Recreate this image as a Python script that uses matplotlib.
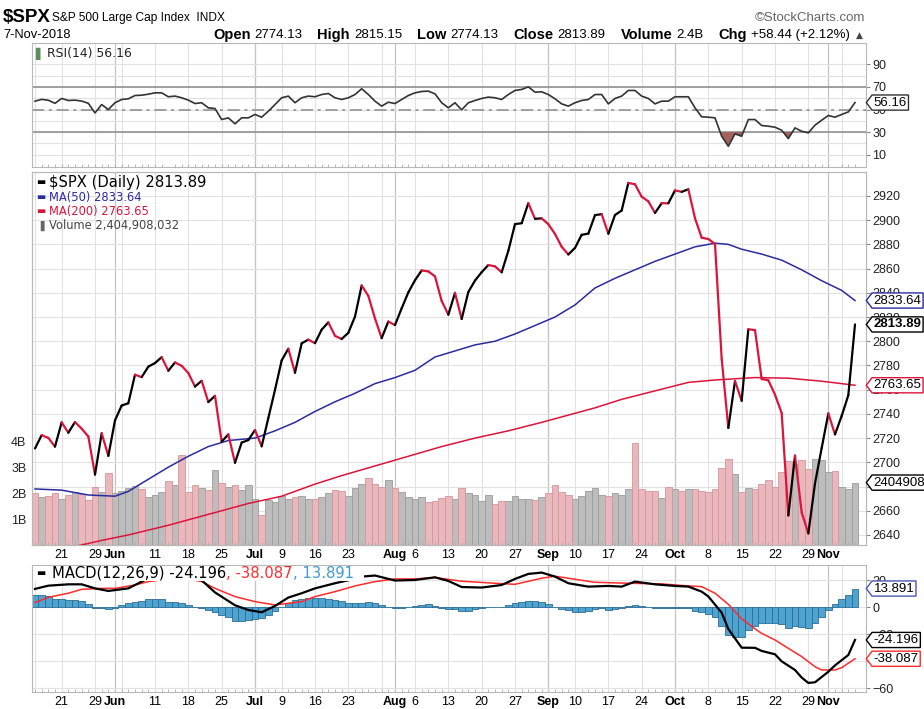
import numpy as np
import pandas as pd
import matplotlib
matplotlib.use('Agg')
import matplotlib.pyplot as plt
from matplotlib.collections import LineCollection
from matplotlib.transforms import blended_transform_factory
from matplotlib.path import Path

W, H = 924, 709

# trading days shown (May 15 - Nov 7 2018)
holidays = ['2018-05-28', '2018-07-04', '2018-09-03']
dates = pd.bdate_range('2018-05-15', '2018-11-07')
dates = dates[~dates.isin(pd.to_datetime(holidays))]
pos = np.arange(len(dates))

prev_close = 2730.13
close = [2711.45, 2722.46, 2720.13, 2712.97, 2733.01, 2724.44, 2733.29, 2727.76, 2721.33, 2689.86, 2724.01, 2705.27,
         2734.62, 2746.87, 2748.80, 2772.35, 2770.37, 2779.03, 2782.00, 2786.85, 2775.63, 2782.49, 2779.66,
         2773.75, 2762.59, 2767.32, 2749.76, 2754.88, 2717.07, 2723.06, 2699.63, 2716.31, 2718.37,
         2726.71, 2713.22, 2736.61, 2759.82, 2784.17, 2793.84, 2774.02, 2798.29, 2801.31, 2798.43, 2809.55,
         2815.62, 2804.49, 2801.83, 2806.98, 2820.40, 2846.07, 2837.44, 2818.82, 2802.60, 2816.29,
         2813.36, 2827.22, 2840.35, 2850.40, 2858.45, 2857.70, 2853.58, 2833.28, 2821.93, 2839.96, 2818.37,
         2840.69, 2850.13, 2857.05, 2862.96, 2861.82, 2856.98, 2874.69, 2896.74, 2897.52, 2914.04, 2901.13, 2901.52,
         2896.72, 2888.60, 2878.05, 2871.68, 2877.13, 2887.89, 2888.92, 2904.18, 2904.98, 2888.80, 2904.31,
         2907.95, 2930.75, 2929.67, 2919.37, 2915.56, 2905.97, 2914.00, 2913.98,
         2924.59, 2923.43, 2925.51, 2901.61, 2885.57, 2884.43, 2880.34, 2785.68, 2728.37, 2767.13, 2750.79,
         2809.92, 2809.21, 2768.78, 2767.78, 2755.88, 2740.69, 2656.10, 2705.57, 2658.69, 2641.25, 2682.63, 2711.74,
         2740.37, 2723.06, 2738.31, 2755.45, 2813.89]

# volume in billions
volume_b = [2.0, 1.83, 1.9, 2.0, 1.77, 1.94, 2.04, 1.96, 1.74, 2.24, 2.04, 2.76, 2.0, 2.09, 2.19, 2.28, 2.15,
            1.83, 1.94, 2.04, 2.45, 2.31, 3.47, 2.04, 2.29, 2.19, 2.13, 2.9, 2.38, 2.24, 2.29, 2.13, 2.29,
            1.77, 1.15, 1.73, 1.64, 1.87, 1.78, 1.83, 1.87, 1.77,
            1.77, 1.86, 1.99, 2.13, 2.06, 1.87, 2.18, 2.35, 2.59, 2.35, 2.22, 2.5, 2.18, 2.03, 1.83, 1.77, 1.83,
            1.64, 1.68, 1.82, 1.87, 1.77,
            2.18, 1.99, 1.94, 1.68, 1.94, 1.56, 1.68, 1.68, 1.87, 1.78, 1.78, 1.72, 1.83, 1.99, 2.29, 2.05, 1.94,
            1.78, 1.9, 2.09, 2.18, 1.94, 1.9, 1.99, 1.94, 2.14, 3.94, 2.14, 2.09, 2.09, 1.82, 2.23, 2.14, 2.08,
            2.14, 2.14, 2.09, 2.04, 2.14, 2.97, 3.32, 2.72, 2.04, 2.18, 2.14, 2.35, 2.5, 2.24, 2.81, 3.22, 3.1,
            3.27, 2.91, 3.32, 3.27, 2.81, 2.86, 2.24, 2.14, 2.40]

ma50_pos = [0, 4, 8, 12, 14, 17, 20, 23, 26, 29, 33, 36, 39, 42, 45, 48, 51, 54, 57, 60, 63, 66, 69, 72, 75,
            78, 81, 84, 87, 90, 93, 96, 99, 102, 104, 106, 109, 112, 115, 118, 121, 123]
ma50_val = [2678, 2677, 2673, 2672, 2676, 2686, 2696, 2705, 2713, 2718, 2720, 2726, 2733, 2742, 2750, 2757,
            2765, 2770, 2776, 2787, 2792, 2797, 2800, 2806, 2813, 2820, 2830, 2844, 2852, 2859, 2866, 2872,
            2878, 2881, 2880, 2876, 2872, 2867, 2859, 2850, 2842, 2833.64]

ma200_pos = [6, 10, 14, 20, 26, 32, 37, 42, 46, 51, 56, 61, 66, 71, 76, 80, 84, 88, 93, 98, 102, 108, 113,
             118, 123]
ma200_val = [2630.5, 2635.5, 2640, 2648, 2657, 2666, 2672, 2682, 2689, 2697, 2705, 2713, 2720, 2726, 2733,
             2739, 2745, 2752, 2759, 2766, 2768, 2770, 2769.5, 2767, 2763.65]

rsi = [57.4, 59, 58.2, 55.5, 59.8, 58, 58.3, 57.5, 55.5, 47, 54.4, 50, 56, 58.9, 59.5, 62.4, 62.7, 63.6, 64.8,
       64.8, 61.3, 61.9, 60.4, 58.3, 55.3, 56, 51.5, 50.9, 41.1, 42.6, 37.3, 42.6, 42.6, 45.6, 43.2, 48.5, 54.4,
       60.4, 61.9, 56, 60.4, 61.9, 61.3, 63.3, 64.2, 60.4, 58.9, 60.4, 63.3, 68.4, 63.3, 57.4, 53, 56.5, 55.3,
       58.9, 62.4, 64.8, 66, 66.3, 63.9, 56, 51.5, 56, 49.7, 56, 58, 59.8, 61, 60.4, 58.9, 63.3, 66.9, 67.8,
       70.1, 65.4, 65.7, 63.3, 59.5, 55, 53, 56, 58, 58.9, 63.3, 63.3, 55, 59.8, 61.9, 66.9, 66.9, 61.9, 59.8,
       55, 57.4, 57.4, 61.3, 61.3, 61.3, 51.5, 43.5, 43.2, 42.6, 26.3, 17.4, 28.4, 26.3, 41.1, 41.1, 35.8,
       35.2, 34.3, 31.6, 24.2, 33.7, 30.7, 29.3, 36.1, 40.5, 44.7, 43.2, 45.6, 47.9, 56.16]

macd_pos = [0, 2, 5, 7, 9, 11, 14, 16, 18, 20, 22, 24, 25, 27, 30, 32, 34, 36, 38, 40, 42, 45, 47, 49, 51,
            54, 57, 60, 62, 64, 67, 70, 72, 74, 76, 78, 80, 83, 86, 88, 90, 93, 96, 98, 100, 101, 103, 104, 105,
            106, 108, 109, 111, 112, 114, 115, 116, 117, 119, 120, 122, 123]
macd_val = [13.6, 16, 17, 17, 14, 12.1, 14, 19, 24, 25, 24, 21.5, 20, 11, 1.5, -2, -3.7, 1, 7.2, 10.4, 14,
            17.8, 20, 22.7, 23.5, 19.8, 20.2, 22.2, 19.5, 15, 14.6, 16.5, 21, 24.7, 25.7, 22.7, 17.8, 15.3,
            15.8, 15.3, 19, 17, 15.8, 15.3, 11.6, 8, -4, -16, -23, -29.9, -30, -32.3, -34.8, -40, -46.4, -52,
            -56, -55.5, -47.7, -43, -35.3, -24.196]

signal_pos = [0, 2, 5, 7, 10, 12, 15, 17, 20, 23, 25, 27, 30, 33, 36, 40, 42, 45, 48, 51, 54, 57, 60, 64,
              69, 72, 76, 78, 80, 84, 89, 94, 98, 100, 102, 104, 106, 108, 109, 111, 113, 115, 117, 118, 120,
              121, 123]
signal_val = [3.5, 7.4, 10.4, 13.3, 14, 14, 16.5, 19, 21, 21, 19, 14, 7.9, 4.2, 1.7, 4.2, 7.9, 11.6, 15.8, 19,
              21, 21, 22, 19.3, 17.8, 17, 21.5, 23, 21.5, 18.5, 17.8, 17.3, 15.8, 15.3, 10.4, 2.2, -8.5, -16,
              -19.3, -24.2, -30.4, -36.5, -44, -46.4, -46.4, -44.7, -38.087]

hist = [9.1, 9.1, 8.5, 6.2, 6.2, 5.4, 5.4, 4.5, 2.5, -0.7, -0.7, -1.5, -0.3, 1.5, 3, 4.2, 5, 5.9, 6, 5.9, 4.2,
        4.2, 3, 2, 0.5, -0.7, -2, -3.2, -5.4, -6.9, -9.8, -10.1, -9.5, -8.5, -7.7, -5.5, -3, 0.5, 3, 5.4, 6.2,
        6.7, 6.7, 6.7, 6.2, 5.4, 4.5, 3.5, 3.5, 3.5, 4.2, 3.5, 1.5, 0, -0.7, -0.7, 0, 1.2, 2, 2.2, 1, -0.5,
        -1.5, -1.5, -3, -2.7, -1.5, -0.7, 0, 0, 0.5, 1.7, 3, 4.2, 4.9, 4.9, 4.2, 2.2, 0.5, -1.2, -2, -3.2,
        -3.2, -2.7, -1.2, -0.7, -2, -1.5, -0.7, 1, 1.7, 1.2, 0, -0.7, -0.7, -0.7, -0.7, -0.7, -0.7, -2.7,
        -3.7, -5.2, -6.9, -13.6, -20.5, -21.7, -21.7, -16.8, -13.6, -11.9, -11.9, -11.4, -12.3, -15.6, -13.8,
        -14.3, -15.1, -11.9, -6.9, -2, 2.2, 6.2, 9.1, 13.891]

tick_dates = ['2018-05-21', '2018-05-29', '2018-06-01', '2018-06-11', '2018-06-18', '2018-06-25',
              '2018-07-02', '2018-07-09', '2018-07-16', '2018-07-23', '2018-08-01', '2018-08-06',
              '2018-08-13', '2018-08-20', '2018-08-27', '2018-09-04', '2018-09-10', '2018-09-17',
              '2018-09-24', '2018-10-01', '2018-10-08', '2018-10-15', '2018-10-22', '2018-10-29', '2018-11-01']
tick_labels = ['21', '29', 'Jun', '11', '18', '25', 'Jul', '9', '16', '23', 'Aug', '6', '13', '20', '27',
               'Sep', '10', '17', '24', 'Oct', '8', '15', '22', '29', 'Nov']
month_names = ['Jun', 'Jul', 'Aug', 'Sep', 'Oct', 'Nov']

plt.rcParams['font.family'] = ['Liberation Sans', 'DejaVu Sans']

close = np.array(close)
tick_pos = [dates.get_loc(pd.Timestamp(d)) for d in tick_dates]
week_start = [i for i in pos if i == 0 or dates[i].isocalendar()[1] != dates[i - 1].isocalendar()[1]]
month_start = [i for i in pos if i > 0 and dates[i].month != dates[i - 1].month]

RED = '#dc143c'
BLUE = '#2b2ba0'
GRID = '#e2e2e2'
EDGE = '#b8b8b8'
xlim = (-0.45, 124.65)

fig = plt.figure(figsize=(W / 100, H / 100), dpi=100)
renderer = fig.canvas.get_renderer()


def px_axes(x0, y0, x1, y1):
    return fig.add_axes([x0 / W, 1 - y1 / H, (x1 - x0) / W, (y1 - y0) / H])


def style(ax):
    ax.set_xlim(*xlim)
    for s in ax.spines.values():
        s.set_color(EDGE)
    ax.yaxis.tick_right()
    ax.tick_params(axis='y', length=3, color='#888888', labelsize=9, pad=1.5, labelcolor='#222222')
    ax.set_xticks(pos, minor=True)
    ax.tick_params(axis='x', which='minor', length=2.5, direction='in', color='#aaaaaa')
    ax.tick_params(axis='x', which='major', length=0, labelsize=9, pad=3)


def vgrid(ax):
    for i in week_start:
        ax.axvline(i, color=GRID, lw=0.8, zorder=0)
    for i in month_start:
        ax.axvline(i, color='#c4c4c4', lw=0.9, zorder=0)


def xlabels(ax):
    ax.set_xticks(tick_pos)
    ax.set_xticklabels(tick_labels)
    for t in ax.get_xticklabels():
        if t.get_text() in month_names:
            t.set_fontweight('bold')


def tag_box(x0, y0, width, height, mutation_size):
    # value flag: box with a small point on its left side
    pad = 0.12 * mutation_size
    x0, y0 = x0 - pad, y0 - pad
    x1, y1 = x0 + width + 2 * pad, y0 + height + 2 * pad
    tip = (y1 - y0) * 0.38
    return Path([(x0, y0), (x1, y0), (x1, y1), (x0, y1), (x0 - tip, (y0 + y1) / 2), (x0, y0), (x0, y0)],
                closed=True)


def tag(ax, y, text, ec, bold=False, ycoords='data'):
    xy = ('axes fraction', ycoords) if isinstance(ycoords, str) else blended_transform_factory(ax.transAxes, ycoords)
    ax.annotate(text, xy=(1.0, y), xycoords=xy, xytext=(5.5, 0), textcoords='offset points',
                ha='left', va='center', fontsize=9.5, fontweight='bold' if bold else 'normal',
                bbox=dict(boxstyle=tag_box, fc='white', ec=ec, lw=1), zorder=10,
                annotation_clip=False)


# ---------------- header ----------------
fig.text(3 / W, 1 - 18 / H, '$SPX', fontsize=13.5, fontweight='bold', va='center')
fig.text(52 / W, 1 - 18 / H, 'S&P 500 Large Cap Index  INDX', fontsize=8.6, va='center')
fig.text(865 / W, 1 - 18 / H, '\u00a9StockCharts.com', fontsize=9.5, va='center', ha='right', color='#666666')
fig.text(3 / W, 1 - 35 / H, '7-Nov-2018', fontsize=9.3, va='center')

pieces = [('Open', True), ('2774.13', False), ('High', True), ('2815.15', False), ('Low', True),
          ('2774.13', False), ('Close', True), ('2813.89', False), ('Volume', True), ('2.4B', False),
          ('Chg', True), ('+58.44 (+2.12%)', False)]
htexts = [fig.text(0, 1 - 35 / H, txt, fontsize=10.5 if bold else 9.5, va='center',
                   fontweight='bold' if bold else 'normal') for txt, bold in pieces]
widths = [t.get_window_extent(renderer).width for t in htexts]
key_gap = 4
gap = (850 - 213 - sum(widths) - key_gap * 6) / 5
xcur = 213
for n, (t, w) in enumerate(zip(htexts, widths)):
    t.set_x(xcur / W)
    xcur += w + (key_gap if n % 2 == 0 else gap)
fig.text(856 / W, 1 - 35 / H, '\u25b2', fontsize=6.5, va='center', color='#444444', family='DejaVu Sans')

# ---------------- RSI panel ----------------
ax_r = px_axes(32, 43, 866, 167)
style(ax_r)
vgrid(ax_r)
ax_r.set_ylim(-1, 109)
for lv in range(10, 100, 10):
    ax_r.axhline(lv, color=GRID, lw=0.8, zorder=0)
ax_r.axhline(70, color='#8a8a8a', lw=1.1, zorder=1)
ax_r.axhline(30, color='#8a8a8a', lw=1.1, zorder=1)
ax_r.axhline(50, color='#8a8a8a', lw=1.1, ls='-.', dashes=(8, 3, 2, 3), zorder=1)
rsi_arr = np.array(rsi)
ax_r.fill_between(pos, rsi_arr, 30, where=rsi_arr < 30, interpolate=True, color='#a3625e', lw=0, zorder=2)
ax_r.fill_between(pos, rsi_arr, 70, where=rsi_arr > 70, interpolate=True, color='#5f9a5f', lw=0, zorder=2)
ax_r.plot(pos, rsi_arr, color='#333333', lw=1.2, zorder=3)
ax_r.set_yticks([10, 30, 50, 70, 90])
ax_r.tick_params(axis='x', which='major', labelbottom=False)
ax_r.text(0.004, 0.965, '\u258c', transform=ax_r.transAxes, color='#5a8f5a', fontsize=8.5, va='top',
          family='DejaVu Sans')
ax_r.text(0.018, 0.965, 'RSI(14) 56.16', transform=ax_r.transAxes, fontsize=8.9, va='top',
          family='DejaVu Sans', color='#222222')
tag(ax_r, rsi[-1], '56.16', '#333333')

# ---------------- price panel ----------------
ax = px_axes(32, 172, 866, 545)
vol = ax.twinx()
vol.set_zorder(ax.get_zorder() - 1)
ax.patch.set_visible(False)
style(ax)
style(vol)
vgrid(vol)
ax.set_ylim(2631.7, 2939.8)
ax.set_yticks(range(2640, 2921, 20))
hgrid_tr = blended_transform_factory(vol.transAxes, ax.transData)
for lv in range(2640, 2921, 20):
    vol.plot([0, 1], [lv, lv], transform=hgrid_tr, color=GRID, lw=0.8, zorder=0)

vol.set_ylim(0, (545 - 172) / 26.0)
prev = np.concatenate([[prev_close], close[:-1]])
up = close >= prev
vol.bar(pos[up], np.array(volume_b)[up], width=0.96, color='#bdbdbd', edgecolor='#9c9c9c', lw=0.6, zorder=2)
vol.bar(pos[~up], np.array(volume_b)[~up], width=0.96, color='#e9b8bd', edgecolor='#d9949c', lw=0.6, zorder=2)
vol.yaxis.set_ticks_position('left')
vol.set_yticks([1, 2, 3, 4])
vol.set_yticklabels(['1B', '2B', '3B', '4B'])
vol.tick_params(axis='y', length=0, labelsize=9, pad=4, labelcolor='#222222')
vol.tick_params(axis='x', which='both', labelbottom=False, length=0)

ax.plot(ma200_pos, ma200_val, color=RED, lw=1.1, zorder=3)
ax.plot(ma50_pos, ma50_val, color=BLUE, lw=1.1, zorder=3)
segs = [[(i - 1, close[i - 1]), (i, close[i])] for i in range(1, len(close))]
seg_cols = ['black' if close[i] >= close[i - 1] else RED for i in range(1, len(close))]
ax.add_collection(LineCollection(segs, colors=seg_cols, linewidths=1.6, zorder=4, capstyle='round',
                                 joinstyle='round'))
xlabels(ax)

leg = [('\u25ac', 'black', '$SPX (Daily) 2813.89', 'black', 10.6, 182),
       ('\u25ac', BLUE, 'MA(50) 2833.64', BLUE, 8.3, 197),
       ('\u25ac', RED, 'MA(200) 2763.65', RED, 8.3, 211),
       ('\u2590', '#666666', 'Volume 2,404,908,032', '#444444', 8.3, 225.5)]
for ic, icc, txt, tc, fs, ypx in leg:
    fig.text(36 / W, 1 - ypx / H, ic, color=icc, fontsize=7, va='center', family='DejaVu Sans')
    fig.text(49 / W, 1 - ypx / H, txt, color=tc, fontsize=fs, va='center', family='DejaVu Sans')

tag(ax, 2833.64, '2833.64', BLUE)
tag(ax, 2813.89, '2813.89', 'black', bold=True)
tag(ax, 2763.65, '2763.65', RED)
tag(ax, volume_b[-1], '2404908032', 'black', ycoords=vol.transData)

# ---------------- MACD panel ----------------
ax_m = px_axes(32, 565, 866, 692)
style(ax_m)
vgrid(ax_m)
ax_m.set_ylim(-62.7, 31.3)
for lv in [20, 0, -20, -40, -60]:
    ax_m.axhline(lv, color=GRID, lw=0.8, zorder=0)
ax_m.bar(pos, hist, width=1.0, color='#4fa3d1', edgecolor='#2b6d94', lw=0.6, zorder=2)
ax_m.plot(signal_pos, signal_val, color='#ff2a2a', lw=1.1, zorder=3)
ax_m.plot(macd_pos, macd_val, color='black', lw=1.6, zorder=4)
ax_m.set_yticks([20, 0, -20, -40, -60])
xlabels(ax_m)

ax_m.add_patch(plt.Rectangle((0.0015, 0.875), 0.396, 0.12, transform=ax_m.transAxes, fc='white', ec='none',
                             zorder=5))
fig.text(36 / W, 1 - 573 / H, '\u25ac', color='black', fontsize=7, va='center', family='DejaVu Sans')
t1 = fig.text(52 / W, 1 - 573 / H, 'MACD(12,26,9) -24.196', fontsize=10.6, va='center', family='DejaVu Sans')
w1 = t1.get_window_extent(renderer).width
t2 = fig.text((52 + w1) / W, 1 - 573 / H, ', -38.087', fontsize=10.6, va='center', color='#ff2a2a',
              family='DejaVu Sans')
w2 = t2.get_window_extent(renderer).width
fig.text((52 + w1 + w2) / W, 1 - 573 / H, ', 13.891', fontsize=10.6, va='center', color='#3d9bd0',
         family='DejaVu Sans')

tag(ax_m, 13.891, '13.891', '#4a56b0')
tag(ax_m, -24.196, '-24.196', 'black')
tag(ax_m, -38.087, '-38.087', '#ff2a2a')

fig.savefig('out.png', dpi=100)
